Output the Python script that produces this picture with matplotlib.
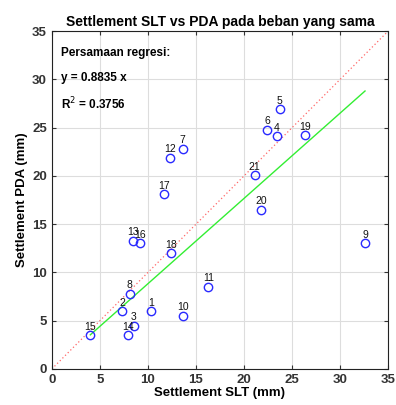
import matplotlib
matplotlib.use("Agg")
import matplotlib.pyplot as plt
import numpy as np

plt.rcParams['font.family'] = ['Liberation Sans', 'DejaVu Sans']

labels = ["1", "2", "3", "4", "5", "6", "7", "8", "9", "10", "11",
          "12", "13", "14", "15", "16", "17", "18", "19", "20", "21"]
slt = [10.3, 7.3, 8.5, 23.4, 23.7, 22.4, 13.6, 8.1, 32.6, 13.7, 16.3,
       12.3, 8.4, 7.9, 4.0, 9.2, 11.7, 12.4, 26.4, 21.8, 21.1]
pda = [6.0, 6.0, 4.5, 24.1, 26.9, 24.8, 22.8, 7.8, 13.0, 5.5, 8.5,
       21.9, 13.3, 3.5, 3.5, 13.0, 18.1, 12.0, 24.2, 16.5, 20.1]
slope = 0.8835
r2 = 0.3756

fig = plt.figure(figsize=(3.96, 4.05), dpi=100)
ax = fig.add_axes([0.131, 0.089, 0.849, 0.834])

ax.plot([0, 35], [0, 35], linestyle=(0, (1, 2)), color='#ff6666', lw=0.9, zorder=2)
xs = np.array([min(slt), max(slt)])
ax.plot(xs, slope * xs, color='#33ee33', lw=1.0, zorder=2)
ax.plot(slt, pda, 'o', mfc='none', mec='#2a2aff', mew=1.0, ms=6, zorder=3)
for lb, x, y in zip(labels, slt, pda):
    ax.annotate(lb, (x, y), xytext=(0, 2.5), textcoords='offset points',
                ha='center', va='bottom', fontsize=7.5, color='#111111')

ax.text(1.0, 32.7, "Persamaan regresi:", fontsize=8.5, fontweight='bold', va='center')
ax.text(1.0, 30.1, f"y = {slope} x", fontsize=8.5, fontweight='bold', va='center')
ax.text(1.0, 27.5, f"R$^2$ = {r2}", fontsize=8.5, fontweight='bold', va='center')

ax.set_xlim(0, 35)
ax.set_ylim(0, 35)
ax.set_xticks(np.arange(0, 36, 5))
ax.set_yticks(np.arange(0, 36, 5))
ax.grid(True, color='#dddddd', lw=0.8)
ax.set_axisbelow(True)
ax.tick_params(direction='in', top=True, right=True, labelsize=9.5, colors='#333333',
               length=3)
for t in ax.get_xticklabels() + ax.get_yticklabels():
    t.set_fontweight('bold')
for s in ax.spines.values():
    s.set_color('#222222')
    s.set_linewidth(0.8)

ax.set_title("Settlement SLT vs PDA pada beban yang sama", fontsize=10, fontweight='bold', pad=4)
ax.set_xlabel("Settlement SLT (mm)", fontsize=9.5, fontweight='bold', labelpad=1)
ax.set_ylabel("Settlement PDA (mm)", fontsize=9.5, fontweight='bold', labelpad=3)

fig.savefig("out.png", dpi=100)
